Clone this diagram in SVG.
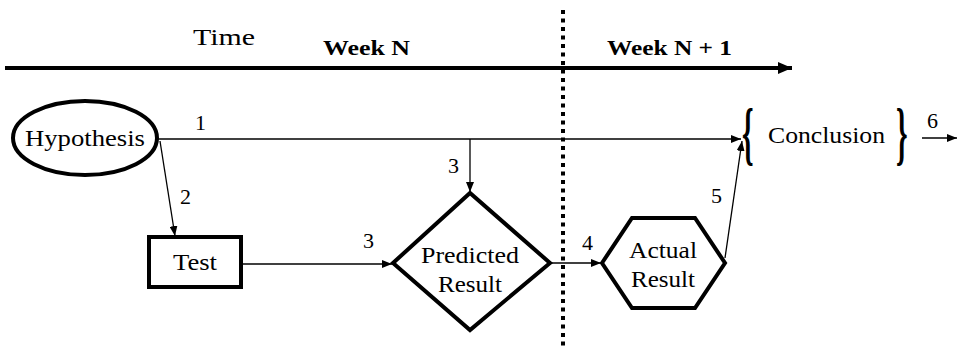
<svg xmlns="http://www.w3.org/2000/svg" width="958" height="352" viewBox="0 0 958 352">
  <defs>
    <marker id="thin" viewBox="0 0 10 8" refX="10" refY="4" markerWidth="10" markerHeight="8" markerUnits="userSpaceOnUse" orient="auto">
      <path d="M0,0 L10,4 L0,8 Z" fill="#000"/>
    </marker>
    <marker id="bold" viewBox="0 0 14 12" refX="14" refY="6" markerWidth="14" markerHeight="12" markerUnits="userSpaceOnUse" orient="auto">
      <path d="M0,0 L14,6 L0,12 Z" fill="#000"/>
    </marker>
    <style>
      text { font-family: 'Liberation Serif', 'DejaVu Serif', serif; fill: #000; }
      .lbl { font-size: 24px; }
      .num { font-size: 22px; }
      .wk { font-size: 22px; font-weight: bold; }
      .brace { font-size: 70px; font-weight: bold; }
      .shape { fill: #fff; stroke: #000; stroke-width: 4; stroke-linejoin: miter; }
      .conn { fill: none; stroke: #000; stroke-width: 1.3; }
    </style>
  </defs>
  <rect width="958" height="352" fill="#fff"/>

  <!-- time axis with the week divider -->
  <g id="timeline">
    <line x1="5" y1="68" x2="792" y2="68" stroke="#000" stroke-width="4" marker-end="url(#bold)"/>
    <line x1="563" y1="10" x2="563" y2="346" stroke="#000" stroke-width="4" stroke-dasharray="4 4.5"/>
    <text class="lbl" x="193" y="45" textLength="62" lengthAdjust="spacingAndGlyphs">Time</text>
    <text class="wk" x="323" y="55" textLength="87" lengthAdjust="spacingAndGlyphs">Week N</text>
    <text class="wk" x="607" y="55" textLength="125" lengthAdjust="spacingAndGlyphs">Week N + 1</text>
  </g>

  <!-- connectors and their step numbers -->
  <g id="connectors">
    <line class="conn" x1="157" y1="139" x2="741" y2="139" marker-end="url(#thin)"/>
    <line class="conn" x1="470" y1="139" x2="470" y2="192" marker-end="url(#thin)"/>
    <line class="conn" x1="160" y1="141" x2="175" y2="236" marker-end="url(#thin)"/>
    <line class="conn" x1="241" y1="264" x2="392" y2="264" marker-end="url(#thin)"/>
    <line class="conn" x1="550" y1="263" x2="601" y2="263" marker-end="url(#thin)"/>
    <line class="conn" x1="725" y1="258" x2="742" y2="141" marker-end="url(#thin)"/>
    <line class="conn" x1="922" y1="138" x2="957" y2="138" marker-end="url(#thin)"/>
    <text class="num" x="195" y="130">1</text>
    <text class="num" x="180" y="204">2</text>
    <text class="num" x="448" y="173">3</text>
    <text class="num" x="363" y="248">3</text>
    <text class="num" x="582" y="250">4</text>
    <text class="num" x="711" y="203">5</text>
    <text class="num" x="927" y="128">6</text>
  </g>

  <g id="hypothesis">
    <ellipse class="shape" cx="85" cy="138" rx="72" ry="37" stroke-width="3.5"/>
    <text class="lbl" x="85" y="146" text-anchor="middle" textLength="120" lengthAdjust="spacingAndGlyphs">Hypothesis</text>
  </g>

  <g id="test">
    <rect class="shape" x="149" y="237" width="92" height="50" stroke-width="3.5"/>
    <text class="lbl" x="195" y="270" text-anchor="middle" textLength="44" lengthAdjust="spacingAndGlyphs">Test</text>
  </g>

  <g id="predicted">
    <polygon class="shape" points="393,263 470,193 550,263 470,330"/>
    <text class="lbl" x="470" y="263" text-anchor="middle" textLength="98" lengthAdjust="spacingAndGlyphs">Predicted</text>
    <text class="lbl" x="470" y="292" text-anchor="middle" textLength="64" lengthAdjust="spacingAndGlyphs">Result</text>
  </g>

  <g id="actual">
    <polygon class="shape" points="602,263 632,218 695,218 725,263 695,308 632,308"/>
    <text class="lbl" x="663" y="258" text-anchor="middle" textLength="68" lengthAdjust="spacingAndGlyphs">Actual</text>
    <text class="lbl" x="663" y="287" text-anchor="middle" textLength="64" lengthAdjust="spacingAndGlyphs">Result</text>
  </g>

  <g id="conclusion">
    <text class="brace" transform="translate(742,157) scale(0.42,1)">{</text>
    <text class="lbl" x="768" y="143" textLength="117" lengthAdjust="spacingAndGlyphs">Conclusion</text>
    <text class="brace" transform="translate(896,157) scale(0.42,1)">}</text>
  </g>
</svg>
